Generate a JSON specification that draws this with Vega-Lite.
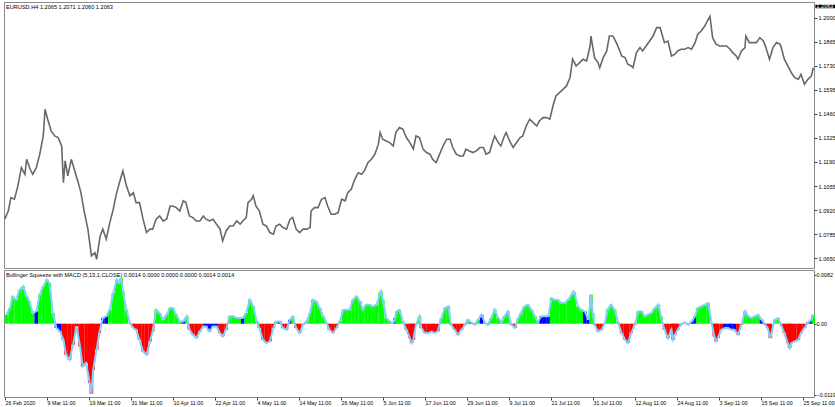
{
"$schema":"https://vega.github.io/schema/vega-lite/v6.json",
"padding":{"left":1,"top":1,"right":0,"bottom":0},
"autosize":{"type":"pad"},
"background":"white",
"spacing":0,
"config":{
 "view":{"stroke":"#8a8a8a","strokeWidth":1},
 "axis":{"labelFont":"Liberation Sans","labelFontSize":5.6,"labelColor":"#000","tickColor":"#444","domain":false,"grid":false,"tickSize":3,"labelPadding":1,"labelOverlap":false,"labelFlush":false},
 "title":{"font":"Liberation Sans","fontSize":5.6,"fontWeight":"normal","color":"#000","anchor":"start","frame":"group"}
},
"datasets":{
"price":[
{"i":2,"p":1.0869},{"i":6,"p":1.0915},{"i":9,"p":1.0990},{"i":13,"p":1.0981},{"i":17,"p":1.1056},{"i":21,"p":1.1158},{"i":25,"p":1.1121},{"i":27,"p":1.1205},{"i":31,"p":1.1149},{"i":34,"p":1.1121},{"i":38,"p":1.1158},{"i":42,"p":1.1234},{"i":46,"p":1.1336},{"i":48,"p":1.1486},{"i":51,"p":1.1430},{"i":55,"p":1.1364},{"i":59,"p":1.1336},{"i":63,"p":1.1327},{"i":67,"p":1.1280},{"i":69,"p":1.1074},{"i":71,"p":1.1196},{"i":74,"p":1.1112},{"i":78,"p":1.1205},{"i":82,"p":1.1140},{"i":86,"p":1.1074},{"i":89,"p":1.1018},{"i":93,"p":1.0906},{"i":97,"p":1.0813},{"i":101,"p":1.0663},{"i":105,"p":1.0681},{"i":107,"p":1.0644},{"i":111,"p":1.0775},{"i":114,"p":1.0813},{"i":118,"p":1.0757},{"i":122,"p":1.0850},{"i":126,"p":1.0925},{"i":129,"p":1.1000},{"i":133,"p":1.1074},{"i":137,"p":1.1140},{"i":141,"p":1.1056},{"i":145,"p":1.1000},{"i":149,"p":1.1018},{"i":152,"p":1.0962},{"i":156,"p":1.0962},{"i":160,"p":1.0869},{"i":164,"p":1.0794},{"i":168,"p":1.0813},{"i":171,"p":1.0813},{"i":175,"p":1.0869},{"i":179,"p":1.0887},{"i":183,"p":1.0859},{"i":187,"p":1.0869},{"i":191,"p":1.0943},{"i":194,"p":1.0943},{"i":198,"p":1.0934},{"i":202,"p":1.0915},{"i":206,"p":1.0972},{"i":209,"p":1.0962},{"i":213,"p":1.0887},{"i":217,"p":1.0878},{"i":221,"p":1.0859},{"i":225,"p":1.0859},{"i":229,"p":1.0887},{"i":232,"p":1.0869},{"i":236,"p":1.0859},{"i":240,"p":1.0869},{"i":244,"p":1.0841},{"i":248,"p":1.0813},{"i":251,"p":1.0747},{"i":255,"p":1.0803},{"i":259,"p":1.0831},{"i":263,"p":1.0831},{"i":267,"p":1.0859},{"i":271,"p":1.0841},{"i":274,"p":1.0859},{"i":278,"p":1.0878},{"i":280,"p":1.0962},{"i":284,"p":1.0981},{"i":286,"p":1.1000},{"i":289,"p":1.0943},{"i":293,"p":1.0915},{"i":297,"p":1.0841},{"i":301,"p":1.0831},{"i":305,"p":1.0794},{"i":309,"p":1.0785},{"i":312,"p":1.0831},{"i":316,"p":1.0841},{"i":320,"p":1.0822},{"i":324,"p":1.0813},{"i":328,"p":1.0869},{"i":331,"p":1.0878},{"i":335,"p":1.0813},{"i":339,"p":1.0794},{"i":343,"p":1.0813},{"i":347,"p":1.0813},{"i":351,"p":1.0822},{"i":352,"p":1.0915},{"i":356,"p":1.0934},{"i":360,"p":1.0934},{"i":364,"p":1.0981},{"i":368,"p":1.0990},{"i":371,"p":1.0943},{"i":375,"p":1.0897},{"i":379,"p":1.0897},{"i":383,"p":1.0906},{"i":387,"p":1.0981},{"i":391,"p":1.0972},{"i":394,"p":1.1018},{"i":398,"p":1.1037},{"i":402,"p":1.1093},{"i":406,"p":1.1130},{"i":410,"p":1.1121},{"i":413,"p":1.1140},{"i":417,"p":1.1186},{"i":421,"p":1.1205},{"i":425,"p":1.1234},{"i":429,"p":1.1290},{"i":431,"p":1.1355},{"i":434,"p":1.1318},{"i":438,"p":1.1308},{"i":442,"p":1.1299},{"i":446,"p":1.1280},{"i":449,"p":1.1355},{"i":453,"p":1.1383},{"i":457,"p":1.1374},{"i":461,"p":1.1327},{"i":465,"p":1.1299},{"i":469,"p":1.1263},{"i":472,"p":1.1336},{"i":476,"p":1.1327},{"i":480,"p":1.1262},{"i":484,"p":1.1243},{"i":488,"p":1.1234},{"i":491,"p":1.1205},{"i":495,"p":1.1186},{"i":499,"p":1.1234},{"i":503,"p":1.1280},{"i":507,"p":1.1318},{"i":511,"p":1.1318},{"i":514,"p":1.1271},{"i":518,"p":1.1234},{"i":522,"p":1.1224},{"i":526,"p":1.1224},{"i":529,"p":1.1262},{"i":533,"p":1.1252},{"i":537,"p":1.1243},{"i":541,"p":1.1252},{"i":545,"p":1.1271},{"i":549,"p":1.1271},{"i":552,"p":1.1234},{"i":556,"p":1.1243},{"i":560,"p":1.1308},{"i":562,"p":1.1336},{"i":566,"p":1.1299},{"i":569,"p":1.1280},{"i":573,"p":1.1336},{"i":575,"p":1.1355},{"i":579,"p":1.1308},{"i":583,"p":1.1271},{"i":587,"p":1.1299},{"i":591,"p":1.1327},{"i":594,"p":1.1336},{"i":598,"p":1.1392},{"i":602,"p":1.1430},{"i":606,"p":1.1411},{"i":610,"p":1.1392},{"i":613,"p":1.1420},{"i":617,"p":1.1439},{"i":621,"p":1.1439},{"i":625,"p":1.1430},{"i":629,"p":1.1514},{"i":632,"p":1.1561},{"i":636,"p":1.1579},{"i":640,"p":1.1598},{"i":644,"p":1.1617},{"i":648,"p":1.1663},{"i":651,"p":1.1767},{"i":655,"p":1.1729},{"i":659,"p":1.1748},{"i":663,"p":1.1767},{"i":667,"p":1.1757},{"i":671,"p":1.1841},{"i":672,"p":1.1897},{"i":676,"p":1.1776},{"i":680,"p":1.1748},{"i":682,"p":1.1719},{"i":686,"p":1.1776},{"i":690,"p":1.1813},{"i":693,"p":1.1897},{"i":697,"p":1.1897},{"i":701,"p":1.1860},{"i":705,"p":1.1813},{"i":707,"p":1.1785},{"i":711,"p":1.1776},{"i":714,"p":1.1739},{"i":718,"p":1.1729},{"i":720,"p":1.1719},{"i":724,"p":1.1804},{"i":728,"p":1.1832},{"i":731,"p":1.1813},{"i":735,"p":1.1841},{"i":739,"p":1.1869},{"i":743,"p":1.1897},{"i":747,"p":1.1944},{"i":751,"p":1.1944},{"i":756,"p":1.1860},{"i":760,"p":1.1869},{"i":764,"p":1.1785},{"i":768,"p":1.1795},{"i":771,"p":1.1813},{"i":775,"p":1.1823},{"i":779,"p":1.1823},{"i":783,"p":1.1832},{"i":787,"p":1.1823},{"i":791,"p":1.1860},{"i":794,"p":1.1907},{"i":798,"p":1.1925},{"i":802,"p":1.1953},{"i":806,"p":1.1991},{"i":808,"p":1.2008},{"i":811,"p":1.1888},{"i":815,"p":1.1851},{"i":819,"p":1.1841},{"i":823,"p":1.1841},{"i":827,"p":1.1841},{"i":831,"p":1.1823},{"i":834,"p":1.1804},{"i":838,"p":1.1785},{"i":840,"p":1.1767},{"i":844,"p":1.1813},{"i":848,"p":1.1832},{"i":849,"p":1.1897},{"i":853,"p":1.1860},{"i":857,"p":1.1860},{"i":861,"p":1.1860},{"i":865,"p":1.1888},{"i":869,"p":1.1869},{"i":872,"p":1.1832},{"i":876,"p":1.1767},{"i":880,"p":1.1832},{"i":884,"p":1.1860},{"i":888,"p":1.1851},{"i":889,"p":1.1841},{"i":893,"p":1.1767},{"i":897,"p":1.1729},{"i":901,"p":1.1691},{"i":905,"p":1.1663},{"i":909,"p":1.1654},{"i":912,"p":1.1682},{"i":916,"p":1.1626},{"i":920,"p":1.1654},{"i":924,"p":1.1673},{"i":926,"p":1.1719}
],
"macd":[
{"i":4,"m":0.00150,"c":"g"},{"i":8,"m":0.00262,"c":"g"},{"i":11,"m":0.00457,"c":"g"},{"i":15,"m":0.00401,"c":"g"},{"i":19,"m":0.00568,"c":"g"},{"i":23,"m":0.00624,"c":"g"},{"i":27,"m":0.00457,"c":"g"},{"i":30,"m":0.00373,"c":"g"},{"i":34,"m":0.00178,"c":"g"},{"i":38,"m":0.00206,"c":"b"},{"i":42,"m":0.00485,"c":"g"},{"i":46,"m":0.00624,"c":"g"},{"i":50,"m":0.00735,"c":"g"},{"i":53,"m":0.00680,"c":"g"},{"i":57,"m":0.00178,"c":"g"},{"i":61,"m":-0.00072,"c":"b"},{"i":65,"m":-0.00128,"c":"b"},{"i":69,"m":-0.00267,"c":"r"},{"i":72,"m":-0.00518,"c":"r"},{"i":76,"m":-0.00602,"c":"r"},{"i":80,"m":-0.00351,"c":"r"},{"i":84,"m":-0.00045,"c":"r"},{"i":88,"m":-0.00379,"c":"r"},{"i":91,"m":-0.00713,"c":"r"},{"i":95,"m":-0.00657,"c":"r"},{"i":99,"m":-0.00991,"c":"r"},{"i":101,"m":-0.01170,"c":"r"},{"i":103,"m":-0.00769,"c":"r"},{"i":107,"m":-0.00434,"c":"r"},{"i":110,"m":-0.00156,"c":"r"},{"i":114,"m":0.00095,"c":"b"},{"i":118,"m":0.00123,"c":"b"},{"i":122,"m":0.00234,"c":"g"},{"i":126,"m":0.00512,"c":"g"},{"i":130,"m":0.00735,"c":"g"},{"i":133,"m":0.00680,"c":"g"},{"i":135,"m":0.00760,"c":"g"},{"i":137,"m":0.00540,"c":"g"},{"i":141,"m":0.00234,"c":"g"},{"i":145,"m":0.00011,"c":"g"},{"i":149,"m":-0.00072,"c":"r"},{"i":152,"m":-0.00100,"c":"r"},{"i":156,"m":-0.00267,"c":"r"},{"i":160,"m":-0.00462,"c":"r"},{"i":164,"m":-0.00518,"c":"r"},{"i":168,"m":-0.00295,"c":"r"},{"i":171,"m":-0.00128,"c":"r"},{"i":175,"m":0.00234,"c":"g"},{"i":179,"m":0.00178,"c":"g"},{"i":183,"m":0.00067,"c":"g"},{"i":187,"m":0.00150,"c":"g"},{"i":191,"m":0.00262,"c":"g"},{"i":194,"m":0.00262,"c":"g"},{"i":198,"m":0.00150,"c":"g"},{"i":202,"m":0.00039,"c":"g"},{"i":206,"m":0.00039,"c":"b"},{"i":210,"m":0.00123,"c":"g"},{"i":213,"m":-0.00100,"c":"r"},{"i":217,"m":-0.00184,"c":"r"},{"i":221,"m":-0.00240,"c":"r"},{"i":225,"m":-0.00128,"c":"r"},{"i":229,"m":-0.00045,"c":"r"},{"i":232,"m":-0.00045,"c":"b"},{"i":236,"m":-0.00128,"c":"b"},{"i":240,"m":-0.00045,"c":"b"},{"i":244,"m":-0.00045,"c":"b"},{"i":248,"m":-0.00156,"c":"r"},{"i":251,"m":-0.00212,"c":"r"},{"i":255,"m":-0.00100,"c":"r"},{"i":259,"m":0.00123,"c":"g"},{"i":263,"m":0.00123,"c":"g"},{"i":267,"m":0.00095,"c":"g"},{"i":270,"m":0.00095,"c":"g"},{"i":274,"m":0.00095,"c":"b"},{"i":278,"m":0.00178,"c":"g"},{"i":282,"m":0.00401,"c":"g"},{"i":286,"m":0.00290,"c":"g"},{"i":290,"m":0.00039,"c":"g"},{"i":293,"m":-0.00072,"c":"r"},{"i":297,"m":-0.00267,"c":"r"},{"i":301,"m":-0.00323,"c":"r"},{"i":305,"m":-0.00295,"c":"r"},{"i":309,"m":-0.00072,"c":"r"},{"i":312,"m":0.00039,"c":"g"},{"i":316,"m":0.00039,"c":"b"},{"i":320,"m":-0.00072,"c":"r"},{"i":324,"m":-0.00100,"c":"r"},{"i":328,"m":0.00067,"c":"b"},{"i":331,"m":0.00123,"c":"g"},{"i":335,"m":-0.00072,"c":"r"},{"i":339,"m":-0.00156,"c":"r"},{"i":343,"m":-0.00017,"c":"r"},{"i":347,"m":0.00039,"c":"g"},{"i":351,"m":0.00178,"c":"g"},{"i":354,"m":0.00401,"c":"g"},{"i":358,"m":0.00373,"c":"g"},{"i":362,"m":0.00262,"c":"g"},{"i":366,"m":0.00123,"c":"g"},{"i":370,"m":0.00011,"c":"g"},{"i":373,"m":-0.00100,"c":"r"},{"i":377,"m":-0.00156,"c":"r"},{"i":381,"m":-0.00072,"c":"r"},{"i":385,"m":0.00039,"c":"g"},{"i":389,"m":0.00234,"c":"g"},{"i":392,"m":0.00234,"c":"g"},{"i":396,"m":0.00234,"c":"g"},{"i":400,"m":0.00401,"c":"g"},{"i":404,"m":0.00457,"c":"g"},{"i":408,"m":0.00373,"c":"g"},{"i":411,"m":0.00234,"c":"g"},{"i":415,"m":0.00317,"c":"g"},{"i":419,"m":0.00317,"c":"g"},{"i":423,"m":0.00290,"c":"g"},{"i":427,"m":0.00317,"c":"g"},{"i":431,"m":0.00512,"c":"g"},{"i":432,"m":0.00540,"c":"g"},{"i":434,"m":0.00401,"c":"g"},{"i":438,"m":0.00095,"c":"g"},{"i":442,"m":0.00039,"c":"g"},{"i":446,"m":0.00011,"c":"g"},{"i":448,"m":0.00095,"c":"b"},{"i":450,"m":0.00206,"c":"g"},{"i":453,"m":0.00234,"c":"g"},{"i":457,"m":0.00039,"c":"g"},{"i":461,"m":-0.00100,"c":"r"},{"i":465,"m":-0.00240,"c":"r"},{"i":467,"m":-0.00323,"c":"r"},{"i":469,"m":-0.00267,"c":"r"},{"i":472,"m":-0.00017,"c":"r"},{"i":476,"m":0.00123,"c":"g"},{"i":478,"m":-0.00072,"c":"r"},{"i":482,"m":-0.00156,"c":"r"},{"i":486,"m":-0.00156,"c":"r"},{"i":490,"m":-0.00128,"c":"r"},{"i":493,"m":-0.00156,"c":"r"},{"i":497,"m":-0.00128,"c":"r"},{"i":501,"m":0.00095,"c":"g"},{"i":505,"m":0.00262,"c":"g"},{"i":509,"m":0.00290,"c":"g"},{"i":512,"m":-0.00017,"c":"r"},{"i":516,"m":-0.00100,"c":"r"},{"i":520,"m":-0.00184,"c":"r"},{"i":524,"m":-0.00100,"c":"r"},{"i":528,"m":-0.00017,"c":"r"},{"i":531,"m":0.00067,"c":"g"},{"i":535,"m":0.00022,"c":"b"},{"i":539,"m":-0.00017,"c":"b"},{"i":543,"m":0.00067,"c":"g"},{"i":547,"m":0.00150,"c":"b"},{"i":551,"m":0.00011,"c":"g"},{"i":554,"m":-0.00017,"c":"b"},{"i":558,"m":0.00095,"c":"g"},{"i":562,"m":0.00234,"c":"g"},{"i":566,"m":0.00095,"c":"g"},{"i":570,"m":0.00022,"c":"g"},{"i":573,"m":0.00123,"c":"g"},{"i":577,"m":0.00206,"c":"g"},{"i":581,"m":-0.00017,"c":"r"},{"i":585,"m":-0.00072,"c":"r"},{"i":589,"m":0.00095,"c":"g"},{"i":592,"m":0.00178,"c":"g"},{"i":596,"m":0.00290,"c":"g"},{"i":600,"m":0.00317,"c":"g"},{"i":604,"m":0.00234,"c":"g"},{"i":608,"m":0.00123,"c":"g"},{"i":611,"m":0.00022,"c":"g"},{"i":615,"m":0.00123,"c":"b"},{"i":619,"m":0.00123,"c":"b"},{"i":623,"m":0.00123,"c":"b"},{"i":627,"m":0.00429,"c":"g"},{"i":630,"m":0.00401,"c":"g"},{"i":634,"m":0.00401,"c":"g"},{"i":638,"m":0.00345,"c":"g"},{"i":642,"m":0.00345,"c":"g"},{"i":646,"m":0.00401,"c":"g"},{"i":650,"m":0.00485,"c":"g"},{"i":652,"m":0.00540,"c":"g"},{"i":653,"m":0.00512,"c":"g"},{"i":657,"m":0.00290,"c":"g"},{"i":661,"m":0.00234,"c":"g"},{"i":665,"m":0.00206,"c":"b"},{"i":669,"m":0.00067,"c":"b"},{"i":672,"m":0.00485,"c":"g"},{"i":674,"m":0.00178,"c":"g"},{"i":676,"m":-0.00017,"c":"r"},{"i":680,"m":-0.00128,"c":"r"},{"i":684,"m":-0.00100,"c":"r"},{"i":688,"m":0.00011,"c":"g"},{"i":691,"m":0.00234,"c":"g"},{"i":695,"m":0.00317,"c":"g"},{"i":699,"m":0.00234,"c":"g"},{"i":703,"m":0.00022,"c":"g"},{"i":707,"m":-0.00156,"c":"r"},{"i":711,"m":-0.00267,"c":"r"},{"i":714,"m":-0.00323,"c":"r"},{"i":718,"m":-0.00156,"c":"r"},{"i":722,"m":-0.00017,"c":"r"},{"i":726,"m":0.00206,"c":"g"},{"i":730,"m":0.00206,"c":"g"},{"i":733,"m":0.00123,"c":"g"},{"i":737,"m":0.00150,"c":"g"},{"i":741,"m":0.00178,"c":"g"},{"i":745,"m":0.00262,"c":"g"},{"i":749,"m":0.00317,"c":"g"},{"i":752,"m":0.00123,"c":"g"},{"i":756,"m":-0.00100,"c":"r"},{"i":760,"m":-0.00240,"c":"r"},{"i":764,"m":-0.00100,"c":"r"},{"i":766,"m":-0.00267,"c":"r"},{"i":768,"m":-0.00184,"c":"r"},{"i":771,"m":-0.00100,"c":"r"},{"i":775,"m":-0.00017,"c":"r"},{"i":779,"m":0.00022,"c":"g"},{"i":783,"m":-0.00017,"c":"r"},{"i":787,"m":0.00039,"c":"b"},{"i":791,"m":0.00123,"c":"b"},{"i":794,"m":0.00262,"c":"g"},{"i":798,"m":0.00290,"c":"g"},{"i":802,"m":0.00317,"c":"g"},{"i":806,"m":0.00345,"c":"g"},{"i":810,"m":0.00011,"c":"g"},{"i":813,"m":-0.00212,"c":"r"},{"i":815,"m":-0.00295,"c":"r"},{"i":817,"m":-0.00240,"c":"r"},{"i":821,"m":-0.00100,"c":"r"},{"i":825,"m":-0.00072,"c":"b"},{"i":829,"m":-0.00072,"c":"b"},{"i":832,"m":-0.00100,"c":"b"},{"i":836,"m":-0.00100,"c":"b"},{"i":840,"m":-0.00184,"c":"r"},{"i":844,"m":-0.00017,"c":"r"},{"i":848,"m":0.00206,"c":"g"},{"i":852,"m":0.00123,"c":"g"},{"i":855,"m":0.00095,"c":"g"},{"i":859,"m":0.00123,"c":"g"},{"i":863,"m":0.00150,"c":"g"},{"i":867,"m":0.00067,"c":"b"},{"i":871,"m":-0.00017,"c":"r"},{"i":874,"m":-0.00072,"c":"r"},{"i":877,"m":-0.00240,"c":"r"},{"i":882,"m":0.00067,"c":"g"},{"i":886,"m":0.00095,"c":"g"},{"i":890,"m":-0.00045,"c":"r"},{"i":893,"m":-0.00156,"c":"r"},{"i":897,"m":-0.00323,"c":"r"},{"i":899,"m":-0.00407,"c":"r"},{"i":901,"m":-0.00323,"c":"r"},{"i":905,"m":-0.00295,"c":"r"},{"i":909,"m":-0.00267,"c":"r"},{"i":912,"m":-0.00156,"c":"r"},{"i":916,"m":-0.00072,"c":"r"},{"i":920,"m":0.00022,"c":"b"},{"i":924,"m":0.00067,"c":"b"},{"i":926,"m":0.00150,"c":"g"}
]
},
"vconcat":[
{
 "width":810,"height":266,
 "title":{"text":"EURUSD,H4  1.2065 1.2071 1.2060 1.2063","offset":-9,"dx":2},
 "layer":[
  {"data":{"name":"price"},
   "mark":{"type":"line","color":"#686868","strokeWidth":1.6},
   "encoding":{
    "x":{"field":"i","type":"quantitative","scale":{"domain":[1.1,926.9],"nice":false,"zero":false,"padding":0},"axis":null},
    "y":{"field":"p","type":"quantitative","scale":{"domain":[1.0595,1.2088],"nice":false,"zero":false},
         "axis":{"orient":"right","values":[1.065,1.0785,1.092,1.1055,1.119,1.1325,1.146,1.1595,1.173,1.1865,1.2],"tickCount":12,"format":".4f","title":null,"labelOverlap":false,"labelBound":false,"labelFontSize":5.6}}
   }},
  {"data":{"values":[{"label":"1.2063"}]},
   "mark":{"type":"rect","color":"#000","clip":false},
   "encoding":{"x":{"datum":928.5},"x2":{"datum":954},"y":{"datum":1.2073},"y2":{"datum":1.2053}}},
  {"data":{"values":[{"label":"1.2063"}]},
   "mark":{"type":"text","color":"#fff","font":"Liberation Sans","fontSize":5.6,"align":"left","baseline":"middle","clip":false},
   "encoding":{"x":{"datum":929.6},"y":{"datum":1.2063},"text":{"field":"label"}}}
 ]
},
{
 "width":810,"height":127,
 "title":{"text":"Bollinger Squeeze with MACD (5,13,1,CLOSE) 0.0014 0.0000 0.0000 0.0000 0.0014 0.0014","offset":-9,"dx":2},
 "data":{"name":"macd"},
 "encoding":{
  "x":{"field":"i","type":"quantitative","scale":{"domain":[1.1,926.9],"nice":false,"zero":false,"padding":0},
       "axis":{"orient":"bottom","title":null,"values":[2.3,50.3,98.3,146.3,194.3,242.3,290.3,338.3,386.3,434.3,482.3,530.3,578.3,626.3,674.3,722.3,770.3,818.3,866.3,914.3],"tickCount":25,
       "labelExpr":"['26 Feb 2020','9 Mar 11:00','19 Mar 11:00','31 Mar 11:00','10 Apr 11:00','22 Apr 11:00','4 May 11:00','14 May 11:00','26 May 11:00','5 Jun 11:00','17 Jun 11:00','29 Jun 11:00','9 Jul 11:00','21 Jul 11:00','31 Jul 11:00','12 Aug 11:00','24 Aug 11:00','3 Sep 11:00','15 Sep 11:00','25 Sep 11:00'][round((datum.value-2.3)/48)]",
       "labelAlign":"left","labelBaseline":"top","labelPadding":0,"labelFontSize":5.3,"labelOverlap":false,"labelBound":false}},
  "y":{"field":"m","type":"quantitative","scale":{"domain":[-0.01224,0.00897],"nice":false,"zero":false},
       "axis":{"orient":"right","title":null,"values":[-0.0119,0,0.0082],"tickCount":5,"tickSize":2,"labelPadding":0,"labelFontSize":5.4,"labelOverlap":false,"labelBound":false,"labelExpr":"datum.value==0?'0.00':format(datum.value,'.4f')"}}
 },
 "layer":[
  {"mark":{"type":"bar","orient":"vertical","size":3.6},
   "encoding":{"y2":{"datum":0},
    "color":{"field":"c","type":"nominal","scale":{"domain":["g","r","b"],"range":["#00ff00","#ff0000","#0000ff"]},"legend":null}}},
  {"mark":{"type":"line","color":"#87cefa","strokeWidth":2},
   "encoding":{}}
 ]
}
]
}
